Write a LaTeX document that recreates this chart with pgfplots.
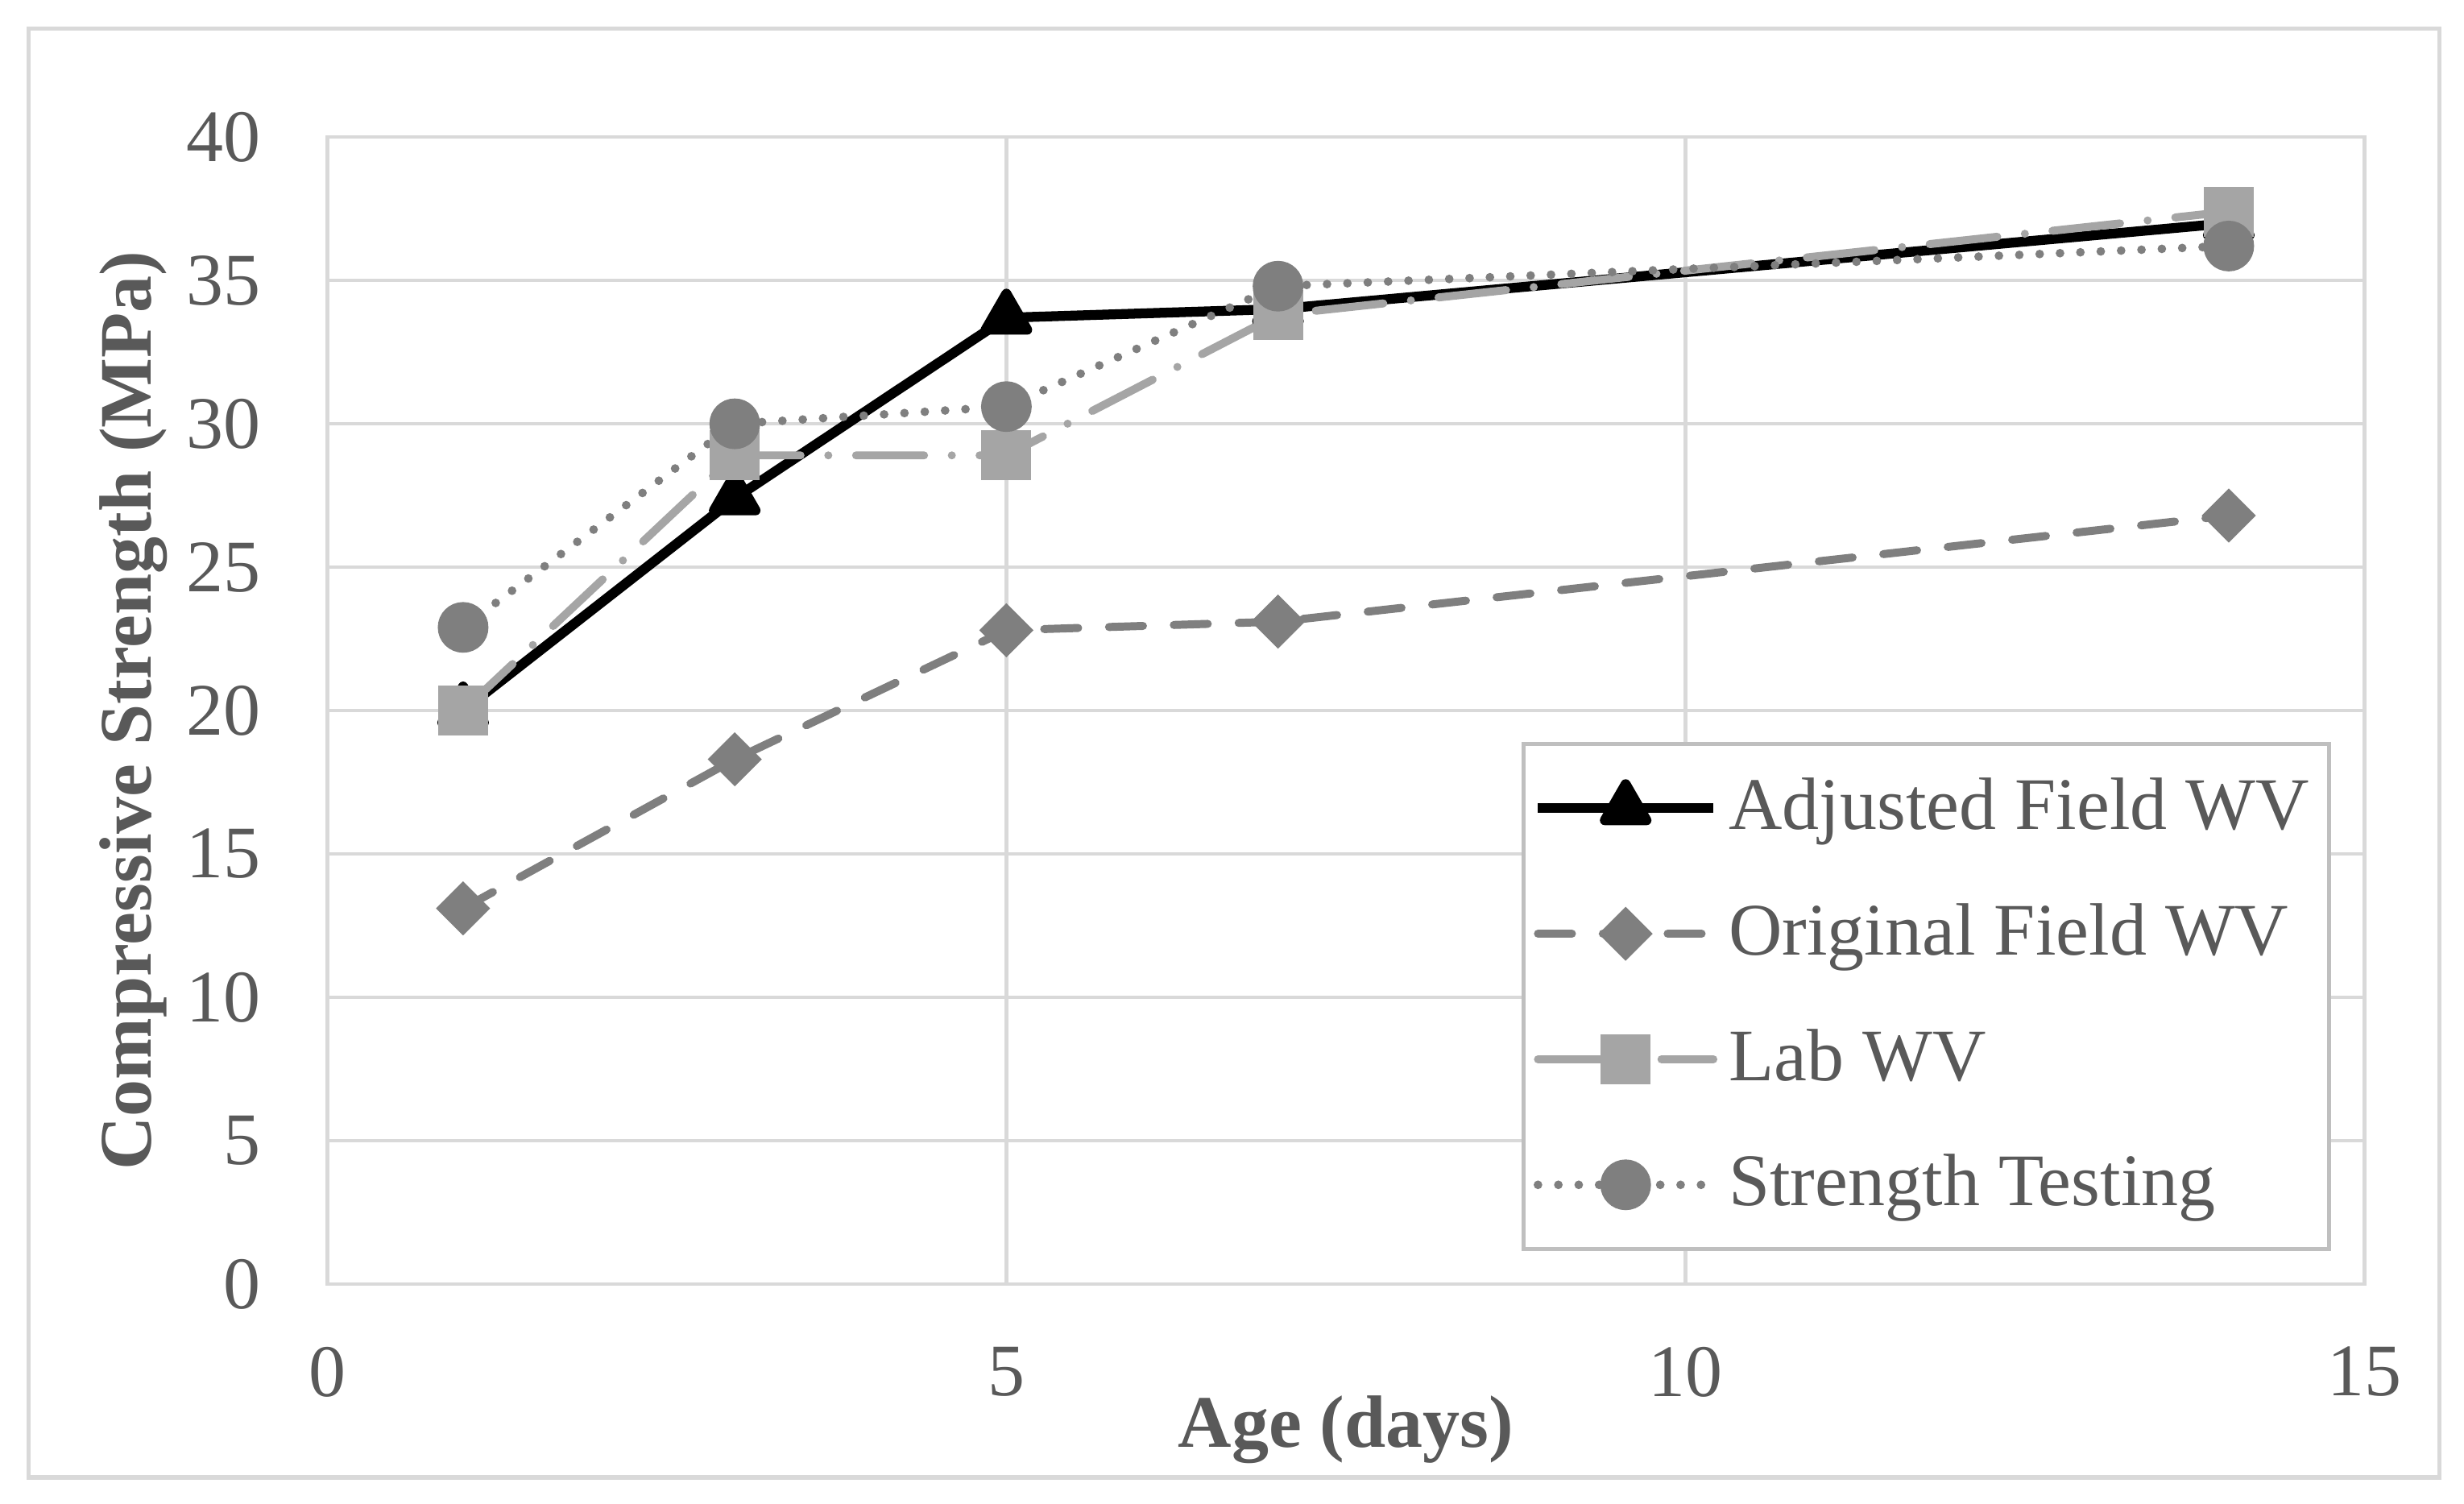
\documentclass[border=0pt]{standalone}
\usepackage{fontspec}
\setmainfont{Liberation Serif}
\usepackage{pgfplots}
\pgfplotsset{compat=1.18}

\definecolor{txtgray}{HTML}{595959}
\definecolor{gridgray}{HTML}{D9D9D9}
\definecolor{boxgray}{HTML}{BFBFBF}
\definecolor{midgray}{HTML}{7F7F7F}
\definecolor{lightgray2}{HTML}{A5A5A5}

\begin{document}
\begin{tikzpicture}
% page size and chart frame
\useasboundingbox (-53pt,-35.5pt) rectangle (346pt,207.9pt);
\draw[gridgray, line width=0.7pt] (-48.4pt,-31.3pt) rectangle (342pt,203.3pt);

\begin{axis}[
    at={(0,0)}, anchor=south west,
    scale only axis,
    width=329.9pt,
    height=185.7pt,
    xmin=0, xmax=15,
    ymin=0, ymax=40,
    xtick={0,5,10,15},
    ytick={0,5,...,40},
    major tick length=0pt,
    grid=major,
    grid style={gridgray, line width=0.6pt},
    axis line style={gridgray, line width=0.6pt},
    x axis line style={boxgray},
    /pgf/number format/assume math mode=true,
    tick label style={font=\fontsize{12}{14}\selectfont, text=txtgray},
    yticklabel style={anchor=east, inner sep=0pt, xshift=-10.6pt},
    xticklabel style={anchor=north, inner sep=0pt, yshift=-10pt},
    xlabel={Age (days)},
    ylabel={Compressive Strength (MPa)},
    every axis x label/.style={at={(axis description cs:0.5,-0.127)}, anchor=center,
        font=\bfseries\fontsize{12}{14}\selectfont, text=txtgray},
    every axis y label/.style={at={(axis description cs:-0.0952,0.5)}, rotate=90, anchor=center,
        font=\bfseries\fontsize{12}{14}\selectfont, text=txtgray},
    legend image code/.code={
        \draw[mark repeat=2, mark phase=2, #1]
            plot coordinates {(0pt,0pt) (14.2pt,0pt) (28.4pt,0pt)};
    },
    legend style={
        at={(rel axis cs:0.9836,0.0285)}, anchor=south east,
        draw=boxgray, line width=0.7pt,
        font=\fontsize{12}{14}\selectfont, text=txtgray,
        row sep=7.5pt,
        inner xsep=1.5pt, inner ysep=4pt,
        nodes={inner xsep=1.7pt, inner ysep=1.5pt},
    },
    legend cell align=left,
]

% Adjusted Field WV
\addplot[black, line width=1.6pt, line join=round,
    mark=triangle*, mark size=3.9pt, mark options={solid, fill=black}]
    coordinates {(1,20.0) (3,27.4) (5,33.7) (7,34.0) (14,37.0)};

% Original Field WV
\addplot[midgray, line width=1.3pt, line cap=round,
    dash pattern=on 5.5pt off 5pt,
    mark=square*, mark size=2.45pt,
    mark options={solid, rotate=45, fill=midgray}]
    coordinates {(1,13.1) (3,18.3) (5,22.8) (7,23.1) (14,26.8)};

% Lab WV
\addplot[lightgray2, line width=1.3pt, line cap=round,
    dash pattern=on 11pt off 4.5pt on 0pt off 4.5pt,
    mark=square*, mark size=3.4pt, mark options={solid, fill=lightgray2}]
    coordinates {(1,20.0) (3,28.9) (5,28.9) (7,33.8) (14,37.4)};

% Strength Testing
\addplot[midgray, line width=1.4pt, line cap=round,
    dash pattern=on 0pt off 3.3pt,
    mark=*, mark size=3.4pt, mark options={solid, fill=midgray}]
    coordinates {(1,22.9) (3,30.0) (5,30.6) (7,34.8) (14,36.2)};

\legend{Adjusted Field WV, Original Field WV, Lab WV, Strength Testing}
\end{axis}
\end{tikzpicture}
\end{document}
